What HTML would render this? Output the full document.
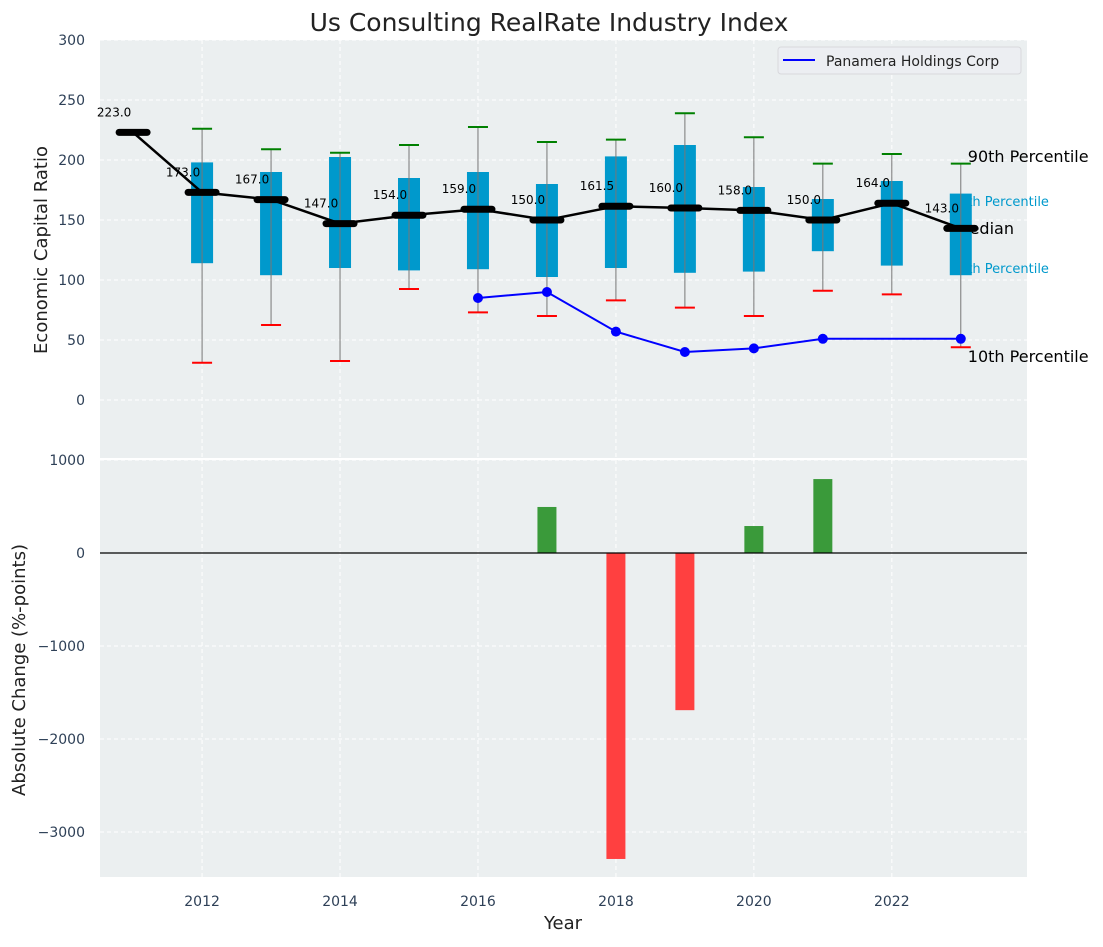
<!DOCTYPE html>
<html><head><meta charset="utf-8"><style>
body{margin:0;background:#fff;font-family:"Liberation Sans","DejaVu Sans",sans-serif;}
svg text{font-family:"DejaVu Sans","Liberation Sans",sans-serif;}
</style></head><body>
<svg id="chart" width="1103" height="942" xmlns="http://www.w3.org/2000/svg"></svg>
<script>
const years=[2011,2012,2013,2014,2015,2016,2017,2018,2019,2020,2021,2022,2023];
const medians=[223,173,167,147,154,159,150,161.5,160,158,150,164,143];
const p75=[null,198,190,202.5,185,190,180,203,212.5,177.5,167.5,182.5,172];
const p25=[null,114,104,110,108,109,102.5,110,106,107,124,112,104];
const p90=[null,226,209,206,212.5,227.5,215,217,239,219,197,205,197];
const p10=[null,31,62.5,32.5,92.5,73,70,83,77,70,91,88,44];
const companyYears=[2016,2017,2018,2019,2020,2021,2023];
const companyValues=[85,90,57,40,43,51,51];
const changeYears=[2017,2018,2019,2020,2021];
const changeValues=[495,-3290,-1690,290,795];
const topTicks=[0,50,100,150,200,250,300];
const botTicks=[-3000,-2000,-1000,0,1000];
const xTicks=[2012,2014,2016,2018,2020,2022];

const NS="http://www.w3.org/2000/svg";
const svg=document.getElementById('chart');
const L=100,R=1027;
const X=v=>L+(v-2010.52)*(R-L)/(2023.96-2010.52);
const Yt=v=>400-v*1.2;
const Yb=v=>553-v*0.093;
function mk(tag,at,parent){const e=document.createElementNS(NS,tag);for(const k in at)e.setAttribute(k,at[k]);(parent||svg).appendChild(e);return e;}
function tx(s,at){const e=mk('text',at);e.textContent=s;return e;}

let e;
e=mk('rect',{x:L,y:40,width:R-L,height:418,fill:'#ebeff0'});


e=mk('rect',{x:L,y:460,width:R-L,height:417,fill:'#ebeff0'});



// grids
topTicks.forEach(t=>{mk('line',{x1:L,x2:R,y1:Yt(t),y2:Yt(t),stroke:'#fff','stroke-dasharray':'4,3','stroke-width':1});
 e=tx(t,{x:85,y:Yt(t)+5,'text-anchor':'end','font-size':14,fill:'#2e4057'});
 
 });
botTicks.forEach(t=>{mk('line',{x1:L,x2:R,y1:Yb(t),y2:Yb(t),stroke:'#fff','stroke-dasharray':'4,3','stroke-width':1});
 e=tx(t<0?'\u2212'+(-t):t,{x:85,y:Yb(t)+5,'text-anchor':'end','font-size':14,fill:'#2e4057'});
 
 });
xTicks.forEach(t=>{mk('line',{x1:X(t),x2:X(t),y1:40,y2:458,stroke:'#fff','stroke-dasharray':'4,3'});
 mk('line',{x1:X(t),x2:X(t),y1:460,y2:877,stroke:'#fff','stroke-dasharray':'4,3'});
 e=tx(t,{x:X(t),y:906,'text-anchor':'middle','font-size':14,fill:'#2e4057'});
 
 });

// side annotations (drawn before boxes)
const lx=X(2023);
[['90th Percentile',lx+7,162,16,'#000'],['75th Percentile',lx-10,206,13,'#0099cc'],['Median',lx-5,234,16,'#000'],['25th Percentile',lx-10,273,13,'#0099cc'],['10th Percentile',lx+7,362,16,'#000']].forEach(a=>{
 e=tx(a[0],{x:a[1],y:a[2],'font-size':a[3],fill:a[4]});
 
 });

// boxes and whiskers
years.forEach((y,i)=>{
 if(p75[i]==null)return;
 const cx=X(y);
 e=mk('rect',{x:cx-11,y:Yt(p75[i]),width:22,height:Yt(p25[i])-Yt(p75[i]),fill:'#0099cc'});
 
 
 e=mk('line',{x1:cx,x2:cx,y1:Yt(p90[i]),y2:Yt(p10[i]),stroke:'#777','stroke-width':1});
 
 
 e=mk('line',{x1:cx-10,x2:cx+10,y1:Yt(p90[i]),y2:Yt(p90[i]),stroke:'green','stroke-width':2});
 
 
 e=mk('line',{x1:cx-10,x2:cx+10,y1:Yt(p10[i]),y2:Yt(p10[i]),stroke:'red','stroke-width':2});
 
 
});

// median line
e=mk('polyline',{points:years.map((y,i)=>X(y)+','+Yt(medians[i])).join(' '),fill:'none',stroke:'#000','stroke-width':2.5});


years.forEach((y,i)=>{
 e=mk('line',{x1:X(y)-14,x2:X(y)+14,y1:Yt(medians[i]),y2:Yt(medians[i]),stroke:'#000','stroke-width':7,'stroke-linecap':'round'});
 
 
 e=tx(medians[i].toFixed(1),{x:X(y)-19,y:Yt(medians[i])-16,'text-anchor':'middle','font-size':12,fill:'#000'});
 
 
});

// company line
e=mk('polyline',{points:companyYears.map((y,i)=>X(y)+','+Yt(companyValues[i])).join(' '),fill:'none',stroke:'#0000ff','stroke-width':2});


companyYears.forEach((y,i)=>{
 e=mk('circle',{cx:X(y),cy:Yt(companyValues[i]),r:5,fill:'#0000ff'});
 
 
});

// legend
e=mk('rect',{x:778,y:47,width:243,height:27,rx:3,fill:'#eceef2',stroke:'#d8d8dc'});


mk('line',{x1:783,x2:815,y1:60,y2:60,stroke:'#0000ff','stroke-width':2});
e=tx('Panamera Holdings Corp',{x:826,y:66,'font-size':14,fill:'#222'});



// bars
changeYears.forEach((y,i)=>{
 const v=changeValues[i];
 e=mk('rect',{x:X(y)-9.5,y:Math.min(Yb(v),Yb(0)),width:19,height:Math.abs(Yb(v)-Yb(0)),fill:v>=0?'#3a9a3a':'#ff4040'});
 
 
});
e=mk('line',{x1:L,x2:R,y1:Yb(0),y2:Yb(0),stroke:'#000','stroke-width':1.2});



// titles
e=tx('Us Consulting RealRate Industry Index',{x:549,y:31,'text-anchor':'middle','font-size':25,fill:'#222'});


e=tx('Economic Capital Ratio',{x:0,y:0,'text-anchor':'middle','font-size':18,fill:'#222',transform:'translate(47,250) rotate(-90)'});


e=tx('Absolute Change (%-points)',{x:0,y:0,'text-anchor':'middle','font-size':18,fill:'#222',transform:'translate(25,670) rotate(-90)'});


e=tx('Year',{x:563,y:929,'text-anchor':'middle','font-size':18,fill:'#222'});


</script>
</body></html>
